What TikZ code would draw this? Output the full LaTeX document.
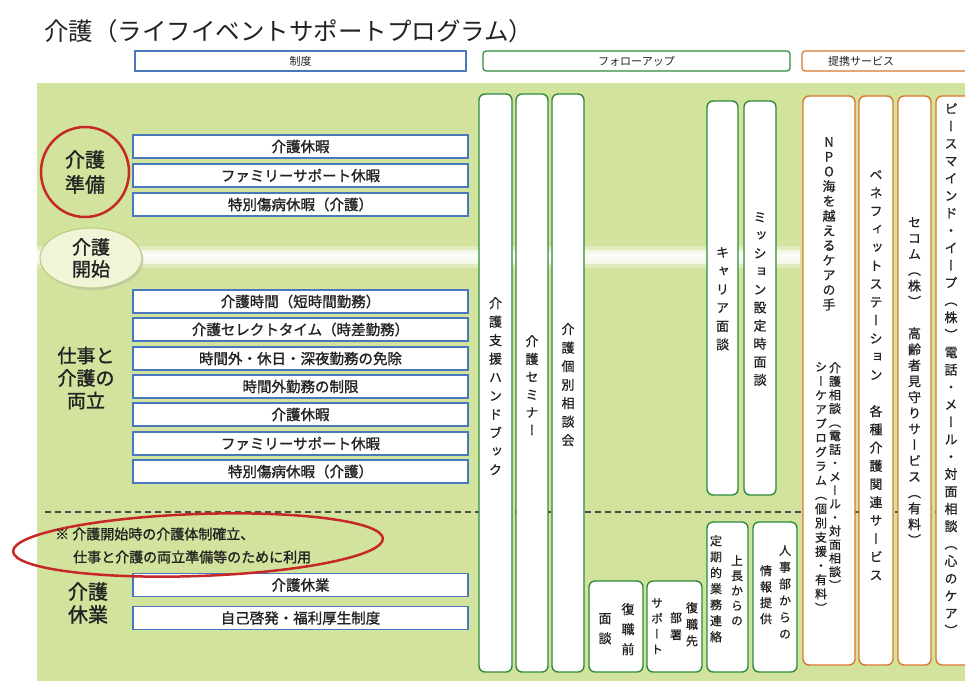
\documentclass[tikz,border=0pt]{standalone}
\usepackage{fontspec}
\setmainfont{Noto Sans CJK JP}
\newfontfamily\vjp[RawFeature=+vert,FakeBold=0.7]{Noto Sans CJK JP}
\newfontfamily\medjp[FakeBold=1.3]{Noto Sans CJK JP}
\usetikzlibrary{shapes.geometric,shadows}
\definecolor{bggreen}{HTML}{D1E39C}
\definecolor{boxblue}{HTML}{4A78BC}
\definecolor{colgreen}{HTML}{2E8B3C}
\definecolor{colorange}{HTML}{D8782E}
\definecolor{ringred}{HTML}{C62828}
\definecolor{txt}{HTML}{222222}
\definecolor{cream}{HTML}{F1F4D6}
\definecolor{creamedge}{HTML}{B9CC7E}
\makeatletter
\newcommand\vtxt[2]{\vbox{\vjp\baselineskip=#1pt\lineskiplimit=-100pt\lineskip=0pt\vt@loop#2\relax}}
\def\vt@loop#1{\ifx\relax#1\else\hbox to 1em{\hss#1\hss}\expandafter\vt@loop\fi}
\makeatother
\tikzset{
  lbox/.style={draw=boxblue, line width=1.2pt, fill=white, minimum width=335pt, minimum height=23pt, inner sep=0pt, text=txt, font=\medjp\fontsize{14.5}{16}\selectfont},
  gcol/.style={draw=colgreen, line width=1.4pt, fill=white, rounded corners=6pt},
  ocol/.style={draw=colorange, line width=1.4pt, fill=white, rounded corners=6pt},
  vt/.style={anchor=north, inner sep=0pt, text=txt, font=\fontsize{13}{15}\selectfont},
  vts/.style={vt, font=\fontsize{12}{14}\selectfont},
  lab/.style={align=center, text=txt, inner sep=0pt},
  hdr/.style={line width=1.2pt, fill=white, minimum height=20pt, inner sep=0pt, text=txt, font=\fontsize{11}{12}\selectfont}
}
\begin{document}
\begin{tikzpicture}[x=1pt,y=-1pt]
\useasboundingbox (0,0) rectangle (965,681);
\fill[white] (0,0) rectangle (965,681);
% title
\node[anchor=west, inner sep=0pt, text=txt, font=\fontsize{24.5}{26}\selectfont] (title) at (44,31) {介護（ライフイベントサポートプログラム）};
% headers
\node[hdr, draw=boxblue, minimum width=331pt] (hseido) at (300.5,61) {制度};
\node[hdr, draw=colgreen, rounded corners=3pt, minimum width=307pt] (hfollow) at (636.5,61) {フォローアップ};
\node[hdr, draw=colorange, rounded corners=3pt, minimum width=166pt] (hteikei) at (885,61) {};
\node[inner sep=0pt, text=txt, font=\fontsize{11}{12}\selectfont] (hteikeit) at (861,61) {提携サービス};
% background
\fill[bggreen] (37,83) rectangle (965,681);
\fill[white, opacity=0.35] (37,246) rectangle (800,268);
\fill[white, opacity=0.6] (37,250) rectangle (800,264);
\fill[white, opacity=0.6] (37,253) rectangle (800,261);
% dashed separator
\draw[black!70, line width=1.3pt, dash pattern=on 6pt off 4pt] (45,512) -- (965,512);
% follow-up columns
\draw[gcol] (479,94) rectangle (512,672);
\draw[gcol] (516,94) rectangle (548,672);
\draw[gcol] (552,94) rectangle (584,672);
\draw[gcol] (707,101) rectangle (738,495);
\draw[gcol] (744,101) rectangle (776,495);
\draw[gcol] (589,581) rectangle (643,672);
\draw[gcol] (647,581) rectangle (702,672);
\draw[gcol] (707,522) rectangle (748,672);
\draw[gcol] (753,522) rectangle (797,672);
\node[vt] (t1) at (495.5,297) {\vtxt{18.5}{介護支援ハンドブック}};
\node[vt] (t2) at (532,335) {\vtxt{17.8}{介護セミナー}};
\node[vt] (t3) at (568,323) {\vtxt{18.5}{介護個別相談会}};
\node[vt] (t4) at (722.5,247) {\vtxt{18.4}{キャリア面談}};
\node[vt] (t5) at (760,212) {\vtxt{18.1}{ミッション設定時面談}};
\node[vt] (b1a) at (628,603) {\vtxt{20}{復職前}};
\node[vt] (b1b) at (605,613) {\vtxt{20}{面談}};
\node[vts] (b2a) at (692,602) {\vtxt{16.5}{復職先}};
\node[vts] (b2b) at (676,612) {\vtxt{17}{部署}};
\node[vts] (b2c) at (657,598) {\vtxt{15.5}{サポート}};
\node[vts] (b3a) at (737,555) {\vtxt{15}{上長からの}};
\node[vts] (b3b) at (716,535) {\vtxt{16}{定期的業務連絡}};
\node[vts] (b4a) at (785,545) {\vtxt{16.7}{人事部からの}};
\node[vts] (b4b) at (766,565) {\vtxt{16}{情報提供}};
% partner columns
\draw[ocol] (803,96) rectangle (855,665);
\draw[ocol] (859,96) rectangle (893,665);
\draw[ocol] (898,96) rectangle (931,665);
\draw[ocol] (936,96) rectangle (972,665);
\node[vt] (oa1) at (829,137) {\vtxt{14.8}{NPO海を越えるケアの手}};
\node[vts] (oa2) at (835,362) {\vtxt{13.6}{介護相談（電話・メール・対面相談）}};
\node[vts] (oa3) at (821,362) {\vtxt{14.2}{シーケアプログラム（個別支援・有料）}};
\node[vt] (ob) at (876,170) {\vtxt{18.2}{ベネフィットステーション　各種介護関連サービス}};
\node[vt] (oc) at (914.5,217) {\vtxt{15.9}{セコム（株）　高齢者見守りサービス（有料）}};
\node[vt] (od) at (951,103) {\vtxt{17.4}{ピースマインド・イープ（株）電話・メール・対面相談（心のケア）}};
% left boxes
\node[lbox] (k1) at (300.5,146.5) {介護休暇};
\node[lbox] (k2) at (300.5,175.5) {ファミリーサポート休暇};
\node[lbox] (k3) at (300.5,204.5) {特別傷病休暇（介護）};
\node[lbox] (r1) at (300.5,301.5) {介護時間（短時間勤務）};
\node[lbox] (r2) at (300.5,329.5) {介護セレクトタイム（時差勤務）};
\node[lbox] (r3) at (300.5,358.5) {時間外・休日・深夜勤務の免除};
\node[lbox] (r4) at (300.5,386.5) {時間外勤務の制限};
\node[lbox] (r5) at (300.5,414.5) {介護休暇};
\node[lbox] (r6) at (300.5,443.5) {ファミリーサポート休暇};
\node[lbox] (r7) at (300.5,471.5) {特別傷病休暇（介護）};
\node[lbox] (q1) at (300.5,585) {介護休業};
\node[lbox] (q2) at (300.5,618) {自己啓発・福利厚生制度};
% left labels
\node[lab, ellipse, draw=ringred, line width=2.5pt, minimum width=88pt, minimum height=90pt, font=\medjp\fontsize{20}{25}\selectfont] (junbi) at (85,172) {介護\\準備};
\node[lab, ellipse, fill=cream, draw=creamedge, line width=1pt, minimum width=102pt, minimum height=60pt, drop shadow={shadow xshift=1.5pt, shadow yshift=-2pt, fill=black!30, opacity=0.5}, font=\medjp\fontsize{19}{22}\selectfont] (kaishi) at (91,258) {介護\\開始};
\node[lab, font=\medjp\fontsize{19}{22.5}\selectfont] (ryoritsu) at (86,378) {仕事と\\介護の\\両立};
\node[lab, font=\medjp\fontsize{20}{23}\selectfont] (kyugyo) at (88,603) {介護\\休業};
% note
\node[ellipse, draw=ringred, line width=2.5pt, minimum width=370pt, minimum height=62pt, rotate=2] (ring2) at (198,545) {};
\node[anchor=west, inner sep=0pt, text=txt, font=\medjp\fontsize{14}{16}\selectfont] (n1) at (55,534) {※ 介護開始時の介護体制確立、};
\node[anchor=west, inner sep=0pt, text=txt, font=\medjp\fontsize{14}{16}\selectfont] (n2) at (73,557) {仕事と介護の両立準備等のために利用};
\end{tikzpicture}
\end{document}
